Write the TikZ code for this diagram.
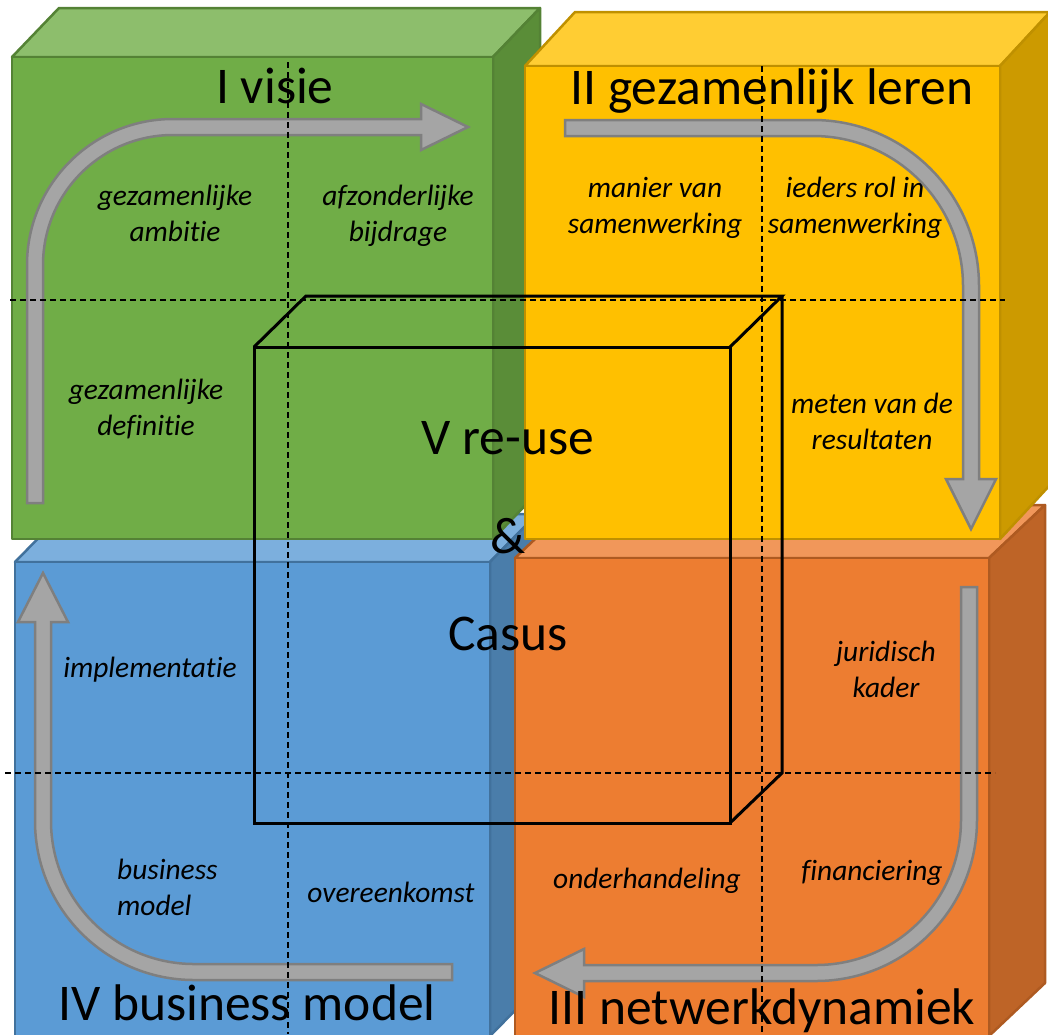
\documentclass[tikz,border=0pt]{standalone}
\usepackage{fontspec}
\setmainfont{Carlito}[RawFeature=-liga]

% block colours: front, top, side, outline
\definecolor{grnFront}{HTML}{70AD47}
\definecolor{grnTop}{HTML}{8DBE6C}
\definecolor{grnSide}{HTML}{5A8D38}
\definecolor{grnLine}{HTML}{548235}
\definecolor{ylwFront}{HTML}{FFC000}
\definecolor{ylwTop}{HTML}{FFCD33}
\definecolor{ylwSide}{HTML}{CC9A00}
\definecolor{ylwLine}{HTML}{BF9000}
\definecolor{bluFront}{HTML}{5B9BD5}
\definecolor{bluTop}{HTML}{7CAFDD}
\definecolor{bluSide}{HTML}{4A7DAA}
\definecolor{bluLine}{HTML}{41719C}
\definecolor{orgFront}{HTML}{ED7D31}
\definecolor{orgTop}{HTML}{F1975A}
\definecolor{orgSide}{HTML}{BE6427}
\definecolor{orgLine}{HTML}{AE5A21}
\definecolor{arrowFill}{HTML}{A5A5A5}
\definecolor{arrowLine}{HTML}{7F7F7F}

\tikzset{
  face/.style={line width=2.5pt, line join=round},
  title/.style={font=\fontsize{51.5}{60}\selectfont, inner sep=0pt, anchor=base},
  lbl/.style={font=\fontsize{29.4}{36}\selectfont\itshape, inner sep=0pt, anchor=base},
  guide/.style={black, line width=1.3pt, dash pattern=on 6pt off 4pt},
  flow/.style={fill=arrowFill, draw=arrowLine, line width=2.5pt, line join=miter},
  wire/.style={black, line width=3pt, line join=miter},
}

\begin{document}
\begin{tikzpicture}[x=1pt, y=-1pt]
\useasboundingbox (0,0) rectangle (1048,1034);
\clip (0,0) rectangle (1048,1034);

% ---- block IV (blue), lower left
\filldraw[face, fill=bluTop, draw=bluLine] (15,562) -- (62,514) -- (537,514) -- (490,562) -- cycle;
\filldraw[face, fill=bluSide, draw=bluLine] (490,562) -- (537,514) -- (537,988) -- (490,1036) -- cycle;
\filldraw[face, fill=bluFront, draw=bluLine] (15,562) rectangle (490,1036);

% ---- block III (orange), lower right
\filldraw[face, fill=orgTop, draw=orgLine] (515,558) -- (571,505) -- (1045,505) -- (989,558) -- cycle;
\filldraw[face, fill=orgSide, draw=orgLine] (989,558) -- (1045,505) -- (1045,983) -- (989,1036) -- cycle;
\filldraw[face, fill=orgFront, draw=orgLine] (515,558) rectangle (989,1036);

% ---- block I (green), upper left
\filldraw[face, fill=grnTop, draw=grnLine] (12,57) -- (59,8) -- (540,8) -- (493,57) -- cycle;
\filldraw[face, fill=grnSide, draw=grnLine] (493,57) -- (540,8) -- (540,490) -- (493,539) -- cycle;
\filldraw[face, fill=grnFront, draw=grnLine] (12,57) rectangle (493,539);

% ---- block II (yellow), upper right
\filldraw[face, fill=ylwTop, draw=ylwLine] (525,66) -- (575,12) -- (1050,12) -- (1000,66) -- cycle;
\filldraw[face, fill=ylwSide, draw=ylwLine] (1000,66) -- (1050,12) -- (1050,485) -- (1000,539) -- cycle;
\filldraw[face, fill=ylwFront, draw=ylwLine] (525,66) rectangle (1000,539);

% ---- italic quadrant labels
\node[lbl] (l1a) at (175,205) {gezamenlijke};
\node[lbl] (l1b) at (175,241) {ambitie};
\node[lbl] (l2a) at (398,205) {afzonderlijke};
\node[lbl] (l2b) at (398,241) {bijdrage};
\node[lbl] (l3a) at (655,197) {manier van};
\node[lbl] (l3b) at (655,233) {samenwerking};
\node[lbl] (l4a) at (855,197) {ieders rol in};
\node[lbl] (l4b) at (855,233) {samenwerking};
\node[lbl] (l5a) at (146,399) {gezamenlijke};
\node[lbl] (l5b) at (146,435) {definitie};
\node[lbl] (l6a) at (872,413) {meten van de};
\node[lbl] (l6b) at (872,449) {resultaten};
\node[lbl] (l7) at (150,677) {implementatie};
\node[lbl] (l8a) at (886,661) {juridisch};
\node[lbl] (l8b) at (886,697) {kader};
\node[lbl, anchor=base west] (l9a) at (117,879) {business};
\node[lbl, anchor=base west] (l9b) at (117,915) {model};
\node[lbl] (l10) at (391,902) {overeenkomst};
\node[lbl] (l11) at (647,888) {onderhandeling};
\node[lbl] (l12) at (872,880) {financiering};

% ---- curved cycle arrows
\filldraw[flow] (27,503) -- (27,265) arc[start angle=180, end angle=270, radius=146]
  -- (421,119) -- (421,104) -- (468,127) -- (421,150) -- (421,135) -- (173,135)
  arc[start angle=270, end angle=180, radius=130] -- (43,503) -- cycle;
\filldraw[flow] (565,120) -- (813,120) arc[start angle=270, end angle=360, radius=166]
  -- (979,479) -- (996,479) -- (971,529) -- (946,479) -- (963,479) -- (963,286)
  arc[start angle=0, end angle=-90, radius=150] -- (565,136) -- cycle;
\filldraw[flow] (961,587) -- (977,587) -- (977,820) arc[start angle=0, end angle=90, radius=161]
  -- (584,981) -- (584,997) -- (535,973) -- (584,949) -- (584,965) -- (816,965)
  arc[start angle=90, end angle=0, radius=145] -- cycle;
\filldraw[flow] (452,964) -- (452,980) -- (194,980) arc[start angle=90, end angle=180, radius=159]
  -- (35,622) -- (18,622) -- (43,573) -- (68,622) -- (51,622) -- (51,821)
  arc[start angle=180, end angle=90, radius=143] -- cycle;

% ---- dashed quadrant guides
\draw[guide] (288,62) -- (288,1034);
\draw[guide] (762,66) -- (762,1034);
\draw[guide] (10,300) -- (1005,300);
\draw[guide] (5,773) -- (995,773);

% ---- central wire-frame box
\draw[wire] (254,347) rectangle (730,823);
\draw[wire] (254,347) -- (306,296) -- (782,296) -- (730,347);
\draw[wire] (782,296) -- (782,773) -- (730,823);

% ---- block titles
\node[title] (t1) at (275,103) {I visie};
\node[title] (t2) at (772,104) {II gezamenlijk leren};
\node[title] (t3) at (762,1024) {III netwerkdynamiek};
\node[title] (t4) at (247,1020) {IV business model};
\node[title] (t5a) at (508,454) {V re-use};
\node[title] (t5b) at (508,553) {\&};
\node[title] (t5c) at (508,650) {Casus};
\end{tikzpicture}
\end{document}
